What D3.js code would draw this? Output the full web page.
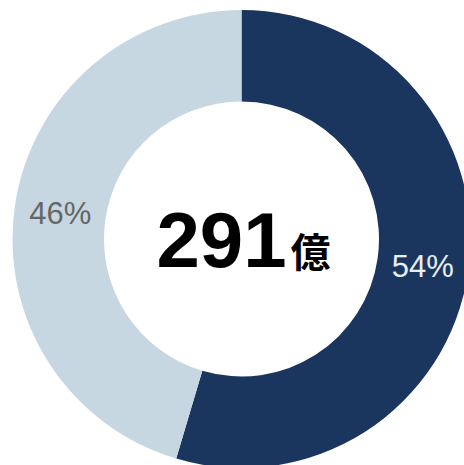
<!DOCTYPE html>
<html>
<head>
<meta charset="utf-8">
<script src="https://cdn.jsdelivr.net/npm/d3@7"></script>
<style>
  html, body { margin: 0; padding: 0; background: #fff; }
  svg { display: block; }
</style>
</head>
<body>
<div id="chart"></div>
<script>
// data
var segments = ['dark', 'light'];
var shares = [54.6, 45.4];
var labels = ['54%', '46%'];
var colors = ['#1b365e', '#c6d7e2'];
var label_colors = ['#e8eef5', '#666666'];
var total_value = '291';
var total_unit = '億';

var w = 464;
var h = 465;
var cx = 241.5;
var cy = 239;
var outer_r = 229;
var inner_r = 137.5;

var svg = d3.select('#chart')
  .append('svg')
  .attr('width', w)
  .attr('height', h);

var g = svg.append('g')
  .attr('transform', 'translate(' + cx + ',' + cy + ')');

var pie = d3.pie()
  .sort(null)
  .value(function(d) { return d; });

var arc = d3.arc()
  .innerRadius(inner_r)
  .outerRadius(outer_r);

var arcs = pie(shares);

g.selectAll('path')
  .data(arcs)
  .enter()
  .append('path')
  .attr('d', arc)
  .attr('fill', function(d, i) { return colors[i]; });

g.selectAll('text.pct')
  .data(arcs)
  .enter()
  .append('text')
  .attr('class', 'pct')
  .attr('transform', function(d) { return 'translate(' + arc.centroid(d) + ')'; })
  .attr('text-anchor', 'middle')
  .attr('dy', '0.36em')
  .attr('font-family', 'Liberation Sans, Arial, sans-serif')
  .attr('font-size', 31)
  .attr('fill', function(d, i) { return label_colors[i]; })
  .text(function(d, i) { return labels[i]; });

// total in the hole
var total = g.append('text')
  .attr('x', 2)
  .attr('y', 28)
  .attr('text-anchor', 'middle');

total.append('tspan')
  .attr('font-family', 'Liberation Sans, Arial, sans-serif')
  .attr('font-weight', 'bold')
  .attr('font-size', 78)
  .attr('fill', '#000')
  .text(total_value);

total.append('tspan')
  .attr('dx', 4)
  .attr('font-family', 'Noto Sans CJK JP, sans-serif')
  .attr('font-weight', 'bold')
  .attr('font-size', 40)
  .attr('fill', '#000')
  .text(total_unit);
</script>
</body>
</html>
